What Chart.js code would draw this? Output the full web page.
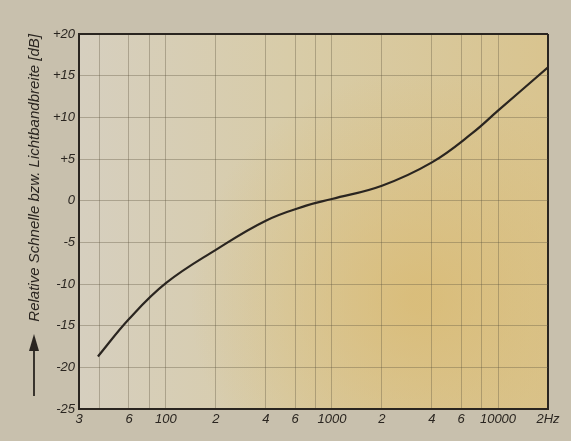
<!DOCTYPE html>
<html>
<head>
<meta charset="utf-8">
<script src="https://cdn.jsdelivr.net/npm/chart.js@4/dist/chart.umd.min.js"></script>
<style>
  html, body { margin: 0; padding: 0; background: #c9c1ae; }
  #wrap { width: 571px; height: 441px; position: relative; }
</style>
</head>
<body>
<div id="wrap"><canvas id="c" width="571" height="441"></canvas></div>
<script>
// Frequency (Hz) and relative level (dB)
const freqs = [39, 60, 100, 200, 400, 700, 1000, 2000, 4000, 7000, 10000, 20000];
const relLevel = [-18.7, -14.2, -9.9, -5.9, -2.4, -0.6, 0.2, 1.8, 4.6, 8.1, 10.8, 16.0];

// Axis ticks
const xTickValues = [30, 40, 60, 80, 100, 200, 400, 600, 800, 1000, 2000, 4000, 6000, 8000, 10000, 20000];
const xTickLabels = ['3', '', '6', '', '100', '2', '4', '6', '', '1000', '2', '4', '6', '', '10000', '2Hz'];
const yTickValues = [-25, -20, -15, -10, -5, 0, 5, 10, 15, 20];
const yTickLabels = ['-25', '-20', '-15', '-10', '-5', '0', '+5', '+10', '+15', '+20'];
const yTitle = 'Relative Schnelle bzw. Lichtbandbreite [dB]';

const ink = '#2a2520';
const gridCol = 'rgba(95,85,65,0.36)';

const paperPlugin = {
  id: 'paper',
  beforeDraw(chart) {
    const { ctx, chartArea: a, width, height } = chart;
    ctx.save();
    ctx.fillStyle = '#c8c0ad';
    ctx.fillRect(0, 0, width, height);
    let g = ctx.createLinearGradient(a.left, 0, a.right, 0);
    g.addColorStop(0, '#d6cfbf');
    g.addColorStop(0.45, '#d8cca8');
    g.addColorStop(1, '#d9c48f');
    ctx.fillStyle = g;
    ctx.fillRect(a.left, a.top, a.right - a.left, a.bottom - a.top);
    const r = ctx.createRadialGradient(420, 300, 10, 420, 300, 230);
    r.addColorStop(0, 'rgba(218,185,110,0.7)');
    r.addColorStop(1, 'rgba(218,185,110,0)');
    ctx.fillStyle = r;
    ctx.fillRect(a.left, a.top, a.right - a.left, a.bottom - a.top);
    ctx.restore();
  }
};

const arrowPlugin = {
  id: 'arrow',
  afterDraw(chart) {
    const { ctx } = chart;
    const x = 34;
    ctx.save();
    ctx.strokeStyle = ink;
    ctx.fillStyle = ink;
    ctx.lineWidth = 1.8;
    ctx.beginPath();
    ctx.moveTo(x, 396);
    ctx.lineTo(x, 348);
    ctx.stroke();
    ctx.beginPath();
    ctx.moveTo(x, 334);
    ctx.lineTo(x - 5, 351);
    ctx.lineTo(x + 5, 351);
    ctx.closePath();
    ctx.fill();
    ctx.restore();
  }
};

const data = freqs.map((f, i) => ({ x: f, y: relLevel[i] }));

new Chart(document.getElementById('c'), {
  type: 'line',
  data: {
    datasets: [{
      data: data,
      borderColor: ink,
      borderWidth: 2.2,
      pointRadius: 0,
      tension: 0.4,
      fill: false
    }]
  },
  options: {
    responsive: false,
    animation: false,
    devicePixelRatio: 1,
    layout: { padding: { left: 24, right: 23, top: 34, bottom: 0 } },
    plugins: { legend: { display: false }, tooltip: { enabled: false } },
    scales: {
      x: {
        type: 'logarithmic',
        min: 30,
        max: 20000,
        afterBuildTicks(scale) { scale.ticks = xTickValues.map(v => ({ value: v })); },
        afterFit(scale) { scale.height = 32; },
        ticks: {
          autoSkip: false,
          maxRotation: 0,
          padding: 3,
          color: ink,
          font: { family: 'Liberation Sans', size: 13, style: 'italic' },
          callback: (v, i) => xTickLabels[i]
        },
        grid: {
          drawTicks: false,
          color: c => (c.tick && (c.tick.value === 20000 || c.tick.value === 30)) ? ink : gridCol,
          lineWidth: c => (c.tick && (c.tick.value === 20000 || c.tick.value === 30)) ? 2 : 1
        },
        border: { display: true, color: ink, width: 2 }
      },
      y: {
        min: -25,
        max: 20,
        afterBuildTicks(scale) { scale.ticks = yTickValues.map(v => ({ value: v })); },
        afterFit(scale) { scale.width = 55; },
        ticks: {
          padding: 4,
          color: ink,
          font: { family: 'Liberation Sans', size: 13, style: 'italic' },
          callback: (v, i) => yTickLabels[i]
        },
        grid: {
          drawTicks: false,
          color: c => (c.tick && c.tick.value === 20) ? ink : gridCol,
          lineWidth: c => (c.tick && c.tick.value === 20) ? 2 : 1
        },
        border: { display: true, color: ink, width: 2 },
        title: {
          display: true,
          text: yTitle,
          align: 'end',
          color: ink,
          padding: { top: 2, bottom: 0 },
          font: { family: 'Liberation Sans', size: 15, style: 'italic' }
        }
      }
    }
  },
  plugins: [paperPlugin, arrowPlugin]
});
</script>
</body>
</html>
